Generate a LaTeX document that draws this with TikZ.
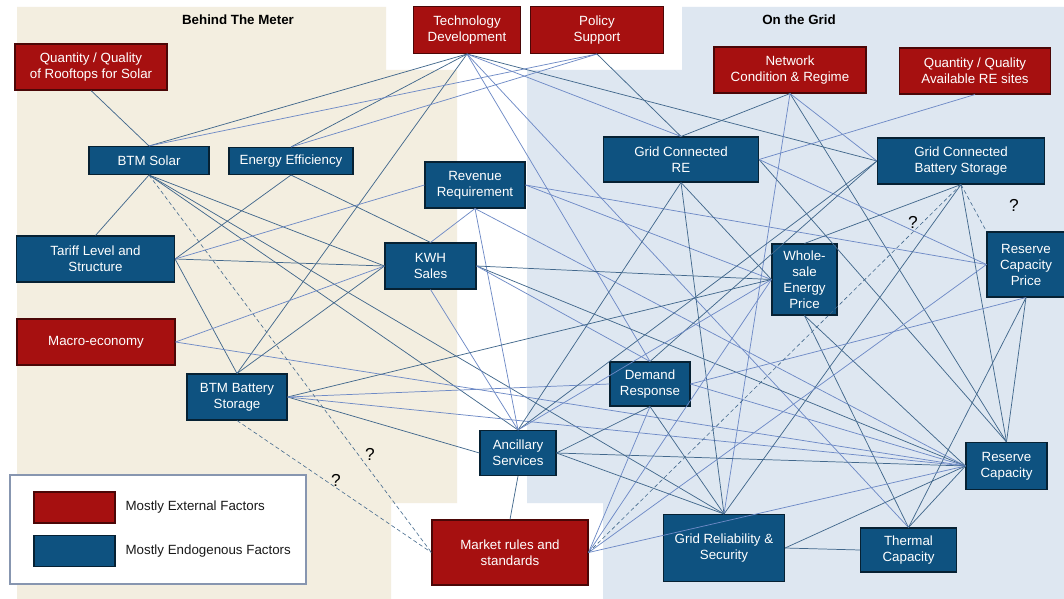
\documentclass[tikz,border=0pt]{standalone}
\usepackage{fontspec}
\setsansfont{Liberation Sans}
\usetikzlibrary{positioning}
\definecolor{extred}{RGB}{166,16,16}
\definecolor{endoblue}{RGB}{14,82,128}
\definecolor{btmbg}{RGB}{243,238,224}
\definecolor{gridbg}{RGB}{222,231,241}
\definecolor{linkdark}{RGB}{66,104,140}
\definecolor{linklight}{RGB}{110,138,198}
\definecolor{legendline}{RGB}{135,150,176}
\tikzset{
  every picture/.style={font={\sffamily\fontsize{10}{12}\selectfont}},
  sz/.style 2 args={minimum width=#1*0.75pt, minimum height=#2*0.75pt},
  lk/.style={draw=linkdark, line width=0.55pt},
  ll/.style={draw=linklight, line width=0.55pt},
  maybe/.style={draw=linkdark, line width=0.45pt, densely dashed}}

\begin{document}
\begin{tikzpicture}[x=0.75pt, y=-0.75pt, node distance=4pt,
    ext/.style={draw=black!55!extred, fill=extred, text=white, align=center, inner sep=0pt, line width=0.8pt},
    endo/.style={draw=black!60!endoblue, fill=endoblue, text=white, align=center, inner sep=0pt, line width=0.8pt},
    head/.style={font={\sffamily\bfseries\fontsize{10}{12}\selectfont}},
    qmark/.style={font={\sffamily\fontsize{13}{13}\selectfont}}]

    \useasboundingbox (0,0) rectangle (1064,599);
    \fill[white] (0,0) rectangle (1064,599);

    % the two areas
    \fill[btmbg] (17,7) -- (386,7) -- (386,70) -- (457,70) -- (457,503) -- (391,503) -- (391,599) -- (17,599) -- cycle;
    \fill[gridbg] (682,7) -- (1064,7) -- (1064,599) -- (603,599) -- (603,503) -- (527,503) -- (527,70) -- (682,70) -- cycle;
    \node[head] (BTM) at (238,20) {Behind The Meter};
    \node[head] (OTG) at (799,20) {On the Grid};

    % external factors
    \node[ext, sz={152}{46}] (RT) at (91,67) {Quantity / Quality\\of Rooftops for Solar};
    \node[ext, sz={107}{47}] (TD) at (467,30) {Technology\\Development};
    \node[ext, sz={133}{47}] (PS) at (597,30) {Policy\\Support};
    \node[ext, sz={152}{46}] (NC) at (790,70) {Network\\Condition \& Regime};
    \node[ext, sz={151}{46}] (QS) at (975,71) {Quantity / Quality\\Available RE sites};
    \node[ext, sz={158}{46}] (ME) at (96,342) {Macro-economy};
    \node[ext, sz={156}{65}] (MR) at (510,552.5) {Market rules and\\standards};

    % endogenous factors
    \node[endo, sz={120}{28}] (BS) at (149,160.5) {BTM Solar};
    \node[endo, sz={124}{27}] (EE) at (291,161) {Energy Efficiency};
    \node[endo, sz={100}{46}] (RR) at (475,185) {Revenue\\Requirement};
    \node[endo, sz={155}{45}] (GR) at (681,159.5) {Grid Connected\\RE};
    \node[endo, sz={167}{46}] (GB) at (961,161) {Grid Connected\\Battery Storage};
    \node[endo, sz={158}{46}] (TL) at (95.5,259) {Tariff Level and\\Structure};
    \node[endo, sz={91}{46}] (KS) at (430.5,266) {KWH\\Sales};
    \node[endo, sz={65}{71}] (WP) at (804.5,279.5) {Whole-\\sale\\Energy\\Price};
    \node[endo, sz={78}{65}] (RP) at (1026,264.5) {Reserve\\Capacity\\Price};
    \node[endo, sz={100}{46}] (BB) at (237,397) {BTM Battery\\Storage};
    \node[endo, sz={80}{44}] (DR) at (650,384) {Demand\\Response};
    \node[endo, sz={76}{45}] (AS) at (518,453) {Ancillary\\Services};
    \node[endo, sz={121}{67}] (GS) at (724,548) {Grid Reliability \&\\Security};
    \node[endo, sz={96}{44}] (TC) at (908.5,550) {Thermal\\Capacity};
    \node[endo, sz={81}{47}] (RC) at (1006.5,466) {Reserve\\Capacity};

    % links
    \path[lk] (RT.south) edge (BS.north);
    \path[lk] (TD.south) edge (BS.north) edge (EE.north) edge (BB.north) edge (GB.west);
    \path[ll] (TD.south) edge (GR.north) edge (DR.north) edge (TC.north);
    \path[ll] (PS.south) edge (BS.north) edge (EE.north);
    \path[lk] (PS.south) edge (GR.north);
    \path[lk] (NC.south) edge (GR.north) edge (RC.north);
    \path[ll] (NC.south) edge (GB.west) edge (GS.north);
    \path[ll] (QS.south) edge (GR.east);
    \path[lk] (BS.south) edge (TL.north) edge (KS.west) edge (AS.north) edge (GS.north);
    \path[lk] (TL.east) edge (EE.south) edge (KS.west) edge (BB.north);
    \path[ll] (TL.east) edge (RR.west);
    \path[lk] (EE.south) edge (KS.north);
    \path[ll] (ME.east) edge (KS.west) edge (RC.west);
    \path[ll] (RR.south) edge (KS.north) edge (AS.north) edge (RC.west);
    \path[ll] (RR.east) edge (RP.west) edge (WP.west);
    \path[lk] (KS.east) edge (WP.west) edge (RC.west);
    \path[ll] (KS.east) edge (DR.north);
    \path[ll] (KS.south) edge (AS.north);
    \path[lk] (KS.west) edge (BB.north);
    \path[lk] (BB.east) edge (WP.west) edge (AS.west);
    \path[ll] (BB.east) edge (RC.west) edge (DR.west);
    \path[lk] (GR.south) edge (AS.north) edge (GS.north) edge (WP.west);
    \path[lk] (GR.east) edge (RC.north);
    \path[ll] (GR.east) edge (RP.west);
    \path[lk] (GB.west) edge (AS.north) edge (DR.north);
    \path[lk] (GB.south) edge (WP.north) edge (GS.north) edge (RC.north);
    \path[ll] (WP.west) edge (AS.north) edge (MR.east);
    \path[lk] (WP.south) edge (TC.north) edge (RC.west);
    \path[ll] (RP.west) edge (MR.east);
    \path[ll] (RP.south) edge (DR.east);
    \path[lk] (RP.south) edge (TC.north) edge (RC.north);
    \path[ll] (DR.east) edge (RC.west);
    \path[lk] (DR.south) edge (AS.east) edge (GS.north);
    \path[ll] (DR.south) edge (MR.east);
    \path[lk] (AS.east) edge (RC.west) edge (GS.north);
    \path[lk] (AS.south) edge (MR.north);
    \path[ll] (MR.east) edge (RC.west);
    \path[lk] (GS.east) edge (TC.west) edge (RC.west);
    \path[lk] (TC.north) edge (RC.west);

    % uncertain links
    \path[maybe] (BS.south) edge (MR.west);
    \path[maybe] (BB.south) edge (MR.west);
    \path[maybe] (GB.south) edge (MR.east) edge (RP.north west);
    \node[qmark] (Q1) at (370,454) {?};
    \node[qmark] (Q2) at (336,480) {?};
    \node[qmark] (Q3) at (913,222) {?};
    \node[qmark] (Q4) at (1014,205) {?};

    % legend
    \node[draw=legendline, fill=white, line width=0.8pt, sz={296}{109}] (LG) at (158,529.5) {};
    \node[ext, sz={81}{31}] (LE) at (74.5,507.5) {};
    \node[endo, sz={81}{31}] (LN) at (74.5,551) {};
    \node[right=of LE, text=black!90] (LEt) {Mostly External Factors};
    \node[right=of LN, text=black!90] (LNt) {Mostly Endogenous Factors};
\end{tikzpicture}
\end{document}
